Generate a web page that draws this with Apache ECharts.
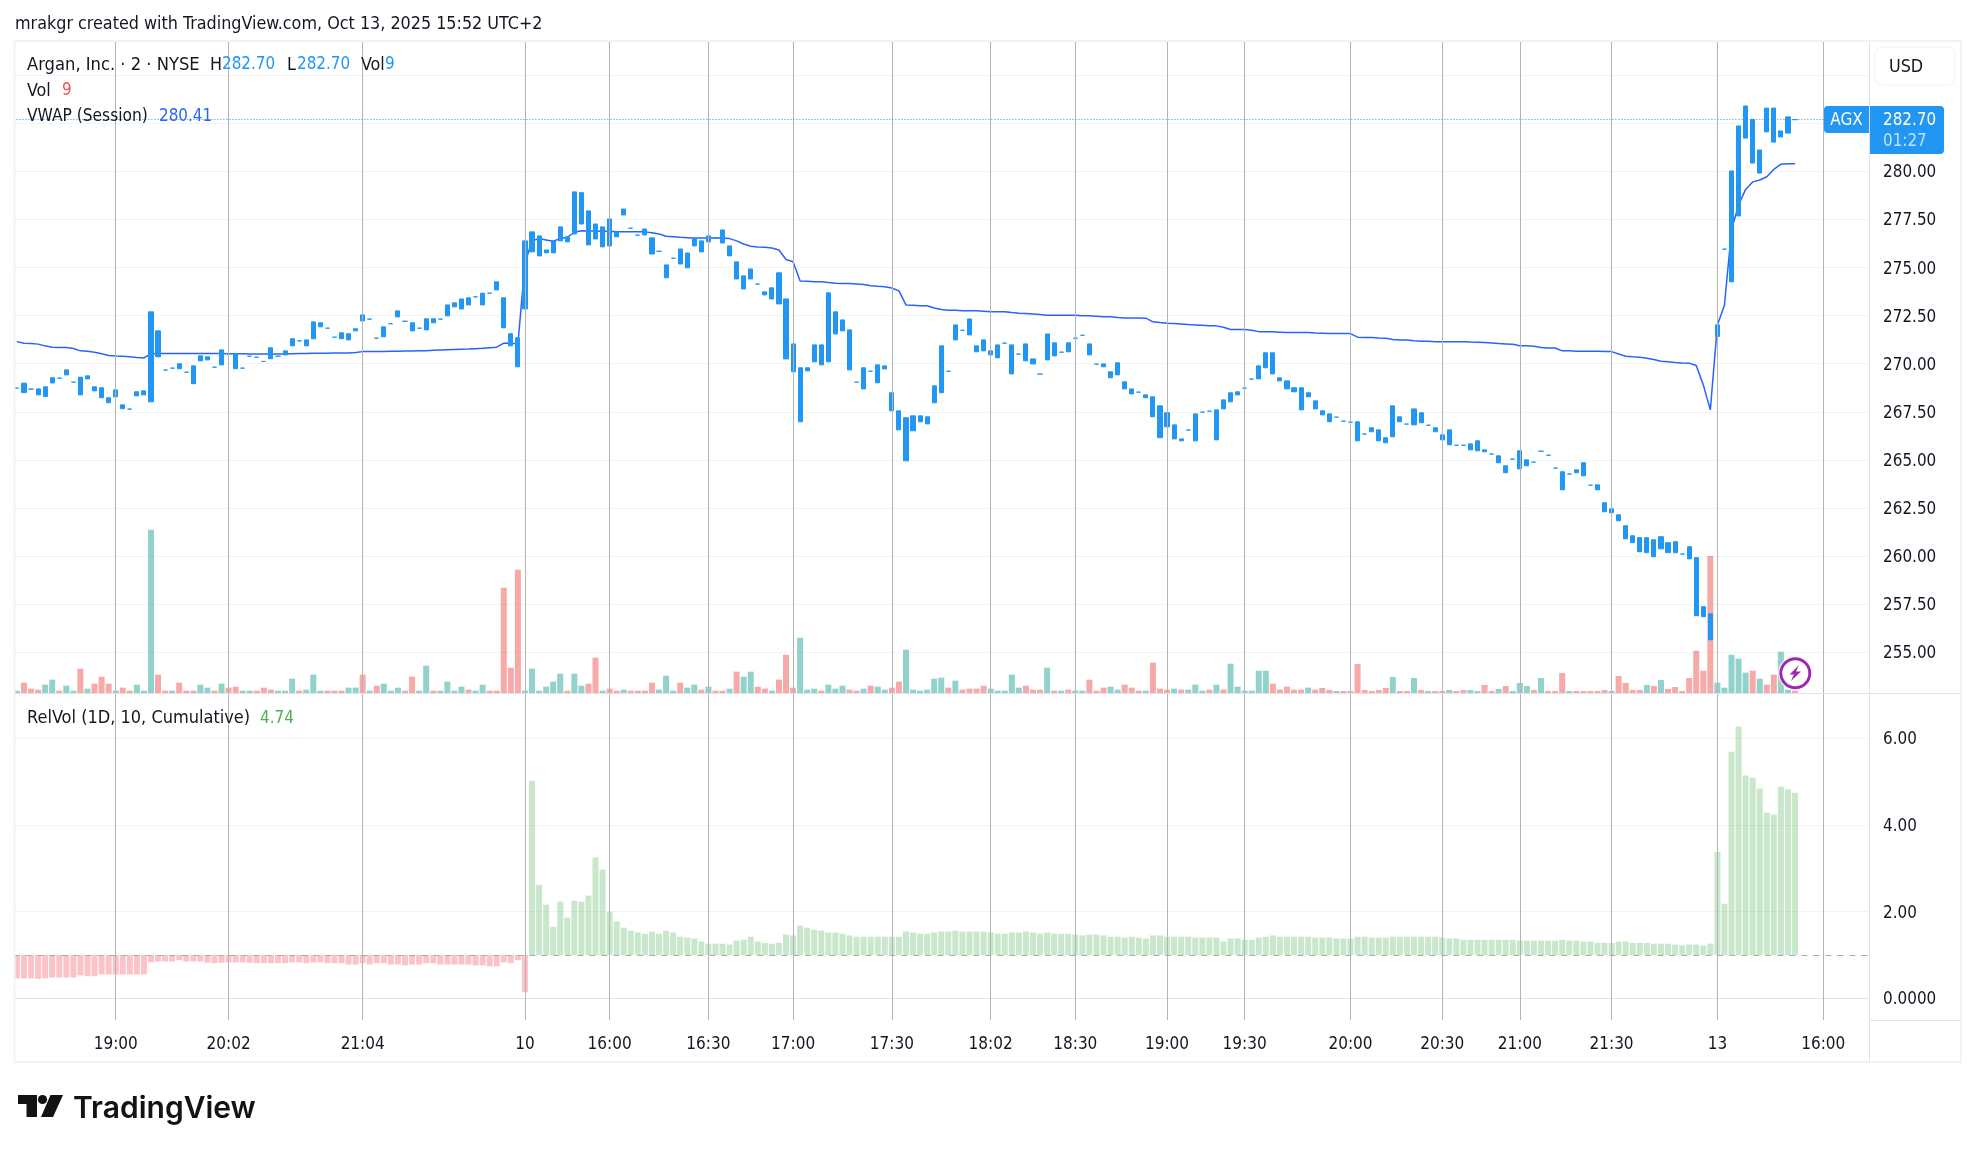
<!DOCTYPE html>
<html><head><meta charset="utf-8">
<style>html,body{margin:0;padding:0;background:#fff}#c{width:1977px;height:1152px}</style>
<script src="https://cdn.jsdelivr.net/npm/echarts@6/dist/echarts.min.js"></script>
</head><body><div id="c"></div>
<script>
const tickIndex=[14,30,49,72,84,98,110,124,138,150,163,174,189,202,213,226,241,256];
const tickLabels=['19:00','20:02','21:04','10','16:00','16:30','17:00','17:30','18:02','18:30','19:00','19:30','20:00','20:30','21:00','21:30','13','16:00'];
const priceGrid=[255,257.5,260,262.5,265,267.5,270,272.5,275,277.5,280,282.5,285];
const priceLabels=[255,257.5,260,262.5,265,267.5,270,272.5,275,277.5,280];
const relGrid=[0,2,4,6];
const lastPrice=282.70;
const barHigh=[
268.73,268.99,268.68,268.69,268.80,269.27,269.25,269.68,269.04,269.30,
269.37,268.80,268.75,268.23,268.64,267.86,267.64,268.54,268.59,272.70,
271.71,269.67,269.77,270.00,269.56,269.89,270.41,270.36,269.82,270.72,
270.52,270.52,269.77,270.39,270.34,270.12,270.83,270.39,270.67,271.30,
271.19,271.24,272.18,272.13,271.85,271.38,271.61,271.56,271.82,272.54,
272.32,271.33,271.92,272.08,272.75,272.21,272.13,271.85,272.34,272.34,
272.32,273.06,273.17,273.37,273.43,273.48,273.67,273.67,274.26,273.43,
271.56,271.35,276.39,276.86,276.65,275.92,276.39,277.12,276.60,278.94,
278.90,277.95,277.27,277.12,277.53,276.86,278.05,277.05,276.69,277.01,
276.55,275.85,
275.14,275.49,275.97,275.76,276.49,276.39,276.65,276.54,276.96,276.13,
275.30,274.57,274.93,274.14,273.74,273.95,274.73,273.37,271.03,269.79,
269.79,270.98,270.98,273.69,272.70,272.28,271.76,269.04,269.79,269.61,
269.94,269.89,268.49,267.55,267.19,267.29,267.29,267.24,268.85,270.93,
269.61,272.02,271.74,272.33,270.93,271.24,270.67,270.98,271.07,270.98,
270.50,271.03,270.25,269.46,271.55,271.09,270.60,271.09,271.33,271.48,
271.03,269.98,269.99,269.58,270.05,269.06,268.69,268.52,268.38,268.28,
267.81,267.45,266.82,266.09,266.55,267.39,267.48,267.53,267.60,268.12,
268.49,268.54,268.73,269.20,269.89,270.57,270.57,269.27,269.11,268.75,
268.75,268.49,268.07,267.55,267.39,267.22,267.01,266.96,266.98,266.34,
266.67,266.56,266.15,267.81,267.24,266.86,267.65,267.45,266.80,266.67,
266.30,266.56,265.76,265.76,265.83,265.99,265.52,265.30,265.21,264.69,
265.04,265.47,265.00,264.88,265.45,265.24,264.57,264.38,264.26,264.48,
264.85,263.68,263.70,262.77,262.45,262.14,261.57,261.05,260.95,260.95,
260.84,261.00,260.69,260.74,260.10,260.48,259.91,257.36,256.99,272.02,
275.96,280.03,282.37,283.41,282.71,281.12,283.30,283.30,282.11,282.84,282.70];
const barLow=[
268.73,268.50,268.68,268.38,268.30,269.00,269.25,269.42,269.04,268.38,
269.21,268.59,268.23,267.97,268.28,267.66,267.64,268.33,268.38,268.02,
270.36,269.67,269.77,269.74,269.56,268.96,270.15,270.20,269.82,269.94,
270.52,269.74,269.77,270.39,270.34,270.12,270.26,270.39,270.46,270.93,
271.19,270.93,271.30,271.92,271.85,271.38,271.30,271.24,271.71,272.23,
272.32,271.33,271.40,272.08,272.44,272.21,271.71,271.85,271.76,272.13,
272.32,272.49,272.96,272.85,273.06,273.48,273.06,273.67,273.84,271.87,
270.93,269.84,272.85,275.82,275.61,275.77,275.77,276.39,276.34,276.75,
277.27,276.18,276.49,276.08,276.13,276.60,277.74,277.05,276.69,276.70,
275.71,275.85,
274.47,275.49,275.19,274.99,276.13,275.82,276.34,276.54,276.28,275.61,
274.41,273.89,274.41,274.14,273.58,273.37,273.11,270.25,269.58,266.98,
269.63,270.10,269.94,270.10,271.55,271.71,269.68,269.04,268.69,269.61,
269.01,269.73,267.55,266.56,264.95,266.51,266.98,266.87,267.97,268.49,
269.61,271.24,271.74,271.50,270.62,270.67,270.46,270.31,271.07,269.47,
270.50,270.15,269.99,269.46,270.20,270.41,270.60,270.62,271.33,271.48,
270.46,269.98,269.84,269.27,269.42,268.69,268.43,268.52,268.23,267.24,
266.15,266.72,266.09,265.99,266.55,265.99,267.48,267.53,266.04,267.65,
268.02,268.38,268.73,269.20,269.21,269.79,269.47,269.11,268.69,268.54,
267.60,268.28,267.65,267.34,266.98,267.22,267.01,266.96,265.99,266.34,
266.46,265.99,265.89,266.20,266.98,266.86,266.82,266.93,266.80,266.46,
266.04,265.78,265.76,265.76,265.52,265.47,265.42,265.30,264.85,264.33,
265.04,264.53,264.69,264.88,265.45,265.24,264.57,263.44,264.26,264.33,
264.17,263.68,263.44,262.30,262.25,261.83,260.89,260.69,260.22,260.17,
259.96,260.37,260.17,260.17,260.10,259.85,256.89,256.84,255.64,271.42,
275.96,274.26,277.69,281.74,280.44,279.92,282.06,281.53,281.80,282.00,282.70];
const vwap=[
271.15,271.07,271.05,271.02,270.93,270.86,270.84,270.84,270.79,270.67,
270.65,270.60,270.52,270.43,270.40,270.39,270.36,270.32,270.30,270.52,
270.53,270.53,270.53,270.53,270.53,270.53,270.53,270.53,270.53,270.53,
270.52,270.52,270.52,270.51,270.51,270.51,270.50,270.50,270.51,270.52,
270.53,270.53,270.55,270.55,270.55,270.56,270.56,270.56,270.58,270.63,
270.63,270.64,270.64,270.65,270.65,270.66,270.66,270.67,270.68,270.70,
270.72,270.73,270.74,270.75,270.76,270.78,270.80,270.83,270.86,271.07,
271.08,271.02,275.23,276.40,276.51,276.44,276.37,276.51,276.58,276.84,
276.92,276.91,276.91,276.89,276.89,276.87,276.87,276.87,276.87,276.86,
276.82,276.75,276.63,276.61,276.58,276.56,276.54,276.54,276.54,276.54,
276.54,276.51,276.39,276.23,276.11,276.07,276.06,276.02,275.92,275.42,
275.31,274.31,274.29,274.27,274.26,274.22,274.19,274.17,274.17,274.15,
274.12,274.06,274.03,274.01,273.94,273.79,273.06,273.04,273.02,273.02,
272.90,272.82,272.78,272.78,272.76,272.76,272.75,272.73,272.71,272.71,
272.71,272.66,272.63,272.61,272.59,272.56,272.52,272.52,272.52,272.52,
272.52,272.50,272.49,272.47,272.45,272.44,272.40,272.38,272.38,272.38,
272.37,272.18,272.14,272.11,272.09,272.07,272.04,272.02,272.00,271.98,
271.97,271.90,271.78,271.78,271.78,271.74,271.67,271.66,271.66,271.64,
271.62,271.62,271.62,271.62,271.60,271.59,271.57,271.57,271.57,271.57,
271.38,271.36,271.36,271.34,271.33,271.26,271.24,271.24,271.20,271.17,
271.17,271.15,271.15,271.15,271.15,271.15,271.13,271.12,271.10,271.08,
271.05,271.03,271.01,270.94,270.93,270.91,270.84,270.82,270.82,270.67,
270.67,270.65,270.65,270.65,270.65,270.63,270.63,270.51,270.39,270.36,
270.34,270.29,270.22,270.13,270.10,270.06,270.04,270.03,269.91,268.90,
267.60,272.02,273.04,276.96,278.26,279.07,279.46,279.56,279.73,280.11,280.38,280.41,280.41];
const volume=[
140,620,260,200,500,800,140,440,140,1460,
260,560,980,560,140,320,140,500,140,9800,
1100,140,140,620,140,140,500,320,140,560,
320,380,140,140,140,320,200,140,140,860,
140,200,1100,140,140,140,140,320,320,1100,
140,440,560,140,320,140,980,140,1640,140,
140,680,140,380,200,140,500,140,140,6320,
1520,7400,140,1460,140,380,680,1160,140,1160,
440,560,2120,140,260,140,200,140,140,140,
620,200,1040,140,620,320,500,200,380,140,
140,260,1280,980,1280,380,260,140,800,2300,
320,3320,200,260,140,500,260,440,200,140,
260,440,380,200,320,680,2600,200,140,200,
860,920,320,740,200,260,260,440,260,140,
140,1100,320,440,200,200,1520,140,140,200,
140,140,800,140,320,380,200,500,320,140,
140,1820,260,200,260,200,200,500,140,200,
500,200,1760,380,140,140,1340,1340,560,200,
380,200,200,320,200,300,180,120,120,120,
1740,180,120,180,300,960,120,120,900,180,
120,120,120,180,120,180,180,120,480,120,
240,420,120,600,420,180,900,120,120,1200,
120,120,120,120,120,180,120,1020,600,180,
180,480,420,780,240,360,120,900,2540,1340,
8220,620,320,2300,2060,1220,1340,860,500,1100,2480,200,140];
const volUp=[
1,0,0,0,1,1,0,1,1,0,
1,0,0,0,1,0,0,1,1,1,
0,0,1,0,0,0,1,1,0,1,
0,0,1,1,0,0,0,1,1,1,
0,1,1,1,0,0,0,1,1,0,
1,0,1,1,1,0,0,1,1,0,
1,1,1,1,0,1,1,0,0,0,
0,0,1,1,1,1,1,1,0,1,
1,0,0,1,0,0,1,0,0,0,
0,1,1,1,0,1,1,0,1,0,
0,1,0,1,1,0,0,1,0,0,
0,1,1,1,0,1,1,1,0,0,
1,0,1,1,0,0,1,1,1,1,
1,1,0,1,0,0,0,0,1,1,
1,1,1,0,0,0,1,0,1,0,
1,1,0,0,0,1,1,0,0,0,
1,0,0,0,1,0,1,1,1,0,
1,0,1,1,1,1,1,1,0,0,
0,0,0,1,0,0,0,1,0,0,
0,0,0,0,0,1,0,0,1,0,
1,0,0,1,0,0,1,1,0,0,
1,0,1,1,1,0,1,0,0,0,
1,0,0,0,0,0,1,0,0,0,
0,1,0,1,0,0,0,0,0,0,
0,1,1,1,1,1,0,1,0,0,1,1,0];
const relVol=[
.46,.46,.46,.45,.46,.48,.48,.48,.48,.53,
.51,.51,.55,.55,.55,.55,.55,.55,.55,.83,
.85,.85,.85,.88,.85,.85,.85,.82,.81,.82,
.83,.83,.83,.82,.81,.81,.81,.81,.81,.83,
.83,.81,.83,.83,.81,.81,.81,.78,.78,.81,
.78,.81,.81,.78,.78,.76,.78,.78,.81,.81,
.78,.78,.78,.78,.78,.76,.76,.74,.74,.83,
.81,.88,.14,5.02,2.62,2.16,1.65,2.23,1.86,2.25,
2.23,2.37,3.25,2.97,2.00,1.77,1.63,1.56,1.52,1.49,
1.54,1.49,1.56,1.52,1.42,1.40,1.38,1.31,1.26,1.26,
1.26,1.24,1.33,1.35,1.42,1.31,1.28,1.26,1.28,1.47,
1.45,1.68,1.63,1.58,1.56,1.52,1.52,1.49,1.45,1.42,
1.42,1.42,1.42,1.42,1.42,1.42,1.54,1.52,1.49,1.49,
1.52,1.54,1.54,1.56,1.54,1.54,1.54,1.54,1.52,1.49,
1.49,1.52,1.52,1.54,1.52,1.49,1.52,1.49,1.49,1.49,
1.47,1.45,1.47,1.47,1.45,1.42,1.42,1.40,1.42,1.40,
1.38,1.45,1.45,1.42,1.42,1.42,1.42,1.40,1.40,1.40,
1.40,1.31,1.38,1.38,1.35,1.35,1.40,1.42,1.45,1.42,
1.42,1.42,1.42,1.42,1.40,1.40,1.40,1.38,1.38,1.38,
1.42,1.42,1.40,1.40,1.40,1.42,1.42,1.42,1.42,1.42,
1.42,1.42,1.40,1.38,1.38,1.35,1.35,1.35,1.35,1.35,
1.35,1.35,1.35,1.33,1.33,1.33,1.33,1.33,1.33,1.35,
1.33,1.33,1.31,1.31,1.28,1.28,1.28,1.31,1.31,1.28,
1.28,1.28,1.26,1.26,1.26,1.24,1.22,1.24,1.24,1.22,
1.26,3.38,2.18,5.69,6.27,5.14,5.09,4.84,4.28,4.24,4.88,4.82,4.74];

const FONT='"DejaVu Sans Condensed","DejaVu Sans",sans-serif';
const F_TXT='17.8px '+FONT, F_NUM='16.9px '+FONT;
const TXT='#131722', BLUE='#2196f3', VW='#2962ff', GRIDC='#f3f4f6', AX='#e0e3eb', VL='#b4b4b6';
const SLOTS=263;
const cats=Array.from({length:SLOTS},(_,i)=>String(i));
const candle=barHigh.map((h,i)=>[barLow[i],h,barLow[i],h]);
const volData=volume.map((v,i)=>({value:v,itemStyle:{color:volUp[i]?'rgba(38,166,154,.5)':'rgba(239,83,80,.5)'}}));
const relBase=relVol.map(v=>Math.min(1,v));
const relDelta=relVol.map(v=>({value:+Math.abs(v-1).toFixed(2),itemStyle:{color:v>=1?'rgba(76,175,80,.3)':'rgba(242,54,69,.3)'}}));
const vLines=tickIndex.map(i=>({xAxis:i}));
const vLineOpt={silent:true,symbol:'none',animation:false,label:{show:false},lineStyle:{color:VL,width:1,type:'solid'},data:vLines};

const T=(x,y,text,o={})=>({type:'text',z:50,silent:true,style:Object.assign({x,y,text,fill:TXT,font:F_TXT,verticalAlign:'middle'},o)});
const R=(x,y,w,h,fill,r,stroke)=>({type:'rect',z:40,silent:true,shape:{x,y,width:w,height:h,r:r||0},style:{fill,stroke:stroke||null,lineWidth:stroke?1:0}});

const graphic=[
 T(15,24,'mrakgr created with TradingView.com, Oct 13, 2025 15:52 UTC+2'),
 // mask left of the frame, then the frame
 R(0,30,14.5,1040,'#fff'),
 {type:'rect',z:41,silent:true,shape:{x:14.5,y:41,width:1946.5,height:1021},style:{fill:'none',stroke:'#f3f3f5',lineWidth:2}},
 {type:'line',z:41,silent:true,shape:{x1:1869.5,y1:1020,x2:1869.5,y2:1062},style:{stroke:AX,lineWidth:1}},
 {type:'line',z:41,silent:true,shape:{x1:1869.5,y1:1020.5,x2:1961,y2:1020.5},style:{stroke:AX,lineWidth:1}},
 {type:'line',z:41,silent:true,shape:{x1:1869.5,y1:693.5,x2:1961,y2:693.5},style:{stroke:AX,lineWidth:1}},
 // legend
 T(27,65,'Argan, Inc. · 2 · NYSE',{font:'18.2px '+FONT}),T(210,65,'H'),T(222,65,'282.70',{fill:BLUE,font:F_NUM}),
 T(287,65,'L'),T(297,65,'282.70',{fill:BLUE,font:F_NUM}),T(361,65,'Vol'),T(385,65,'9',{fill:BLUE,font:F_NUM}),
 T(27,91,'Vol'),T(62,91,'9',{fill:'#ef5350',font:F_NUM}),
 T(27,117,'VWAP (Session)',{font:'17.2px '+FONT}),T(159,117,'280.41',{fill:VW,font:F_NUM}),
 T(27,718.5,'RelVol (1D, 10, Cumulative)',{font:'18px '+FONT}),T(260,718.5,'4.74',{fill:'#4caf50',font:F_NUM}),
 // USD
 R(1875,47,80,38,'#fff',8,'#f0f3fa'),T(1889,67,'USD'),
 // price pills
 R(1824,106,45,27,BLUE,[4,0,0,4]),T(1846.5,120.5,'AGX',{fill:'#fff',align:'center',font:'17px '+FONT}),
 R(1870,106,74,48,BLUE,[0,4,4,0]),T(1883,120.5,'282.70',{fill:'#fff',font:F_NUM}),T(1883,141.5,'01:27',{fill:'#c4e2fb',font:F_NUM}),
 // bolt
 {type:'circle',z:45,silent:true,shape:{cx:1795.3,cy:673.3,r:14.5},style:{fill:'#fff',stroke:'#9c27b0',lineWidth:3}},
 {type:'circle',z:44,silent:true,shape:{cx:1795.3,cy:673.3,r:17},style:{fill:'#fff'}},
 {type:'polygon',z:46,silent:true,shape:{points:[[1799,665],[1789.5,674.5],[1794,674.5],[1791,681],[1801,671.5],[1796,671.5]]},style:{fill:'#9c27b0'}},
 // logo
 {type:'polygon',z:46,silent:true,shape:{points:[[18,1095],[37,1095],[37,1117],[26.5,1117],[26.5,1104],[18,1104]]},style:{fill:'#131313'}},
 {type:'circle',z:46,silent:true,shape:{cx:42.5,cy:1099.5,r:4.6},style:{fill:'#131313'}},
 {type:'polygon',z:46,silent:true,shape:{points:[[50.5,1095],[63,1095],[53,1117],[41,1117]]},style:{fill:'#131313'}},
 T(73,1109,'TradingView',{fill:'#131313',font:'600 30px Inter,Roboto,sans-serif'})
];

const richNum={a:{padding:[3,0,0,0],color:TXT,fontFamily:FONT,fontSize:16.9}};
const chart=echarts.init(document.getElementById('c'),null,{renderer:'canvas',width:1977,height:1152});
chart.setOption({
 animation:false,backgroundColor:'#fff',graphic,
 grid:[
  {left:13.4,width:1855.7,top:41,height:652,containLabel:false},
  {left:13.4,width:1855.7,top:694,height:326,containLabel:false}],
 xAxis:[
  {type:'category',gridIndex:0,data:cats,boundaryGap:true,axisTick:{show:false},axisLabel:{show:false},axisLine:{show:true,lineStyle:{color:AX}},splitLine:{show:false}},
  {type:'category',gridIndex:1,data:cats,boundaryGap:true,axisTick:{show:false},axisLine:{show:true,lineStyle:{color:AX}},splitLine:{show:false},
   axisLabel:{show:true,hideOverlap:false,interval:i=>tickIndex.includes(i),margin:16,color:TXT,fontFamily:FONT,fontSize:17,
     formatter:v=>{const k=tickIndex.indexOf(+v);return k<0?'':tickLabels[k];}}}
 ],
 yAxis:[
  {type:'value',gridIndex:0,position:'right',scale:true,min:252.87,max:286.79,
   axisLine:{show:true,lineStyle:{color:AX}},
   axisTick:{show:false,customValues:priceGrid},
   splitLine:{show:true,lineStyle:{color:GRIDC,width:1}},
   axisLabel:{show:true,customValues:priceLabels,margin:14,rich:richNum,formatter:v=>'{a|'+v.toFixed(2)+'}'}},
  {type:'value',gridIndex:0,min:0,max:39138,show:false,splitLine:{show:false}},
  {type:'value',gridIndex:1,position:'right',min:-0.5,max:7.02,
   axisLine:{show:true,lineStyle:{color:AX}},
   axisTick:{show:false,customValues:relGrid},
   splitLine:{show:true,lineStyle:{color:GRIDC,width:1}},
   axisLabel:{show:true,customValues:relGrid,margin:14,rich:richNum,formatter:v=>'{a|'+(v===0?'0.0000':v.toFixed(2))+'}'}}
 ],
 series:[
  {name:'Vol',type:'bar',xAxisIndex:0,yAxisIndex:1,data:volData,barWidth:6,z:2,silent:true,markLine:Object.assign({},vLineOpt)},
  {name:'VWAP',type:'line',xAxisIndex:0,yAxisIndex:0,data:vwap,symbol:'none',z:3,silent:true,lineStyle:{color:VW,width:1.5},
   markLine:{silent:true,symbol:'none',animation:false,label:{show:false},lineStyle:{color:BLUE,width:1,type:[1,2]},data:[{yAxis:lastPrice}]}},
  {name:'AGX',type:'candlestick',xAxisIndex:0,yAxisIndex:0,data:candle,barWidth:4.6,z:4,silent:true,
   itemStyle:{color:BLUE,color0:BLUE,borderColor:BLUE,borderColor0:BLUE,borderColorDoji:BLUE,borderWidth:1}},
  {name:'RelVolBase',type:'bar',xAxisIndex:1,yAxisIndex:2,stack:'rv',data:relBase,barWidth:6,silent:true,itemStyle:{color:'rgba(0,0,0,0)'},z:2,
   markLine:Object.assign({},vLineOpt)},
  {name:'RelVol',type:'bar',xAxisIndex:1,yAxisIndex:2,stack:'rv',data:relDelta,barWidth:6,silent:true,z:3,
   markLine:{silent:true,symbol:'none',animation:false,label:{show:false},lineStyle:{color:'#a8aab0',width:1,type:[6,6]},data:[{yAxis:1}]}}
 ]
});
</script></body></html>
